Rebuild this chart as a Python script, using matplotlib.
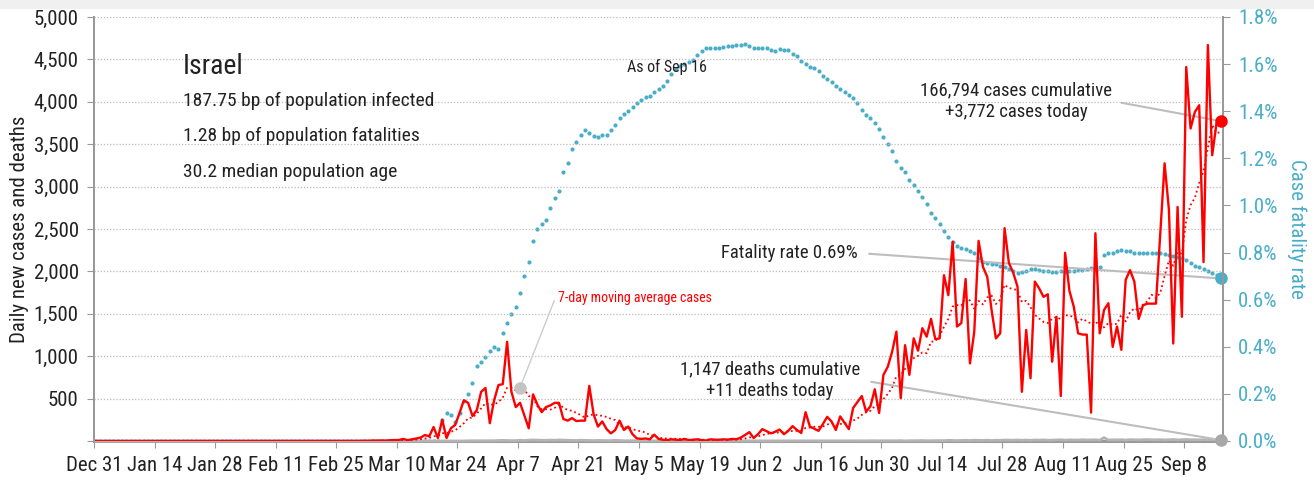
import numpy as np
import pandas as pd
import matplotlib
matplotlib.use('Agg')
import matplotlib.pyplot as plt
from matplotlib.patches import Rectangle
from matplotlib import font_manager

#Buscar una fuente estrecha (narrow / condensed) entre las instaladas
def buscarFuenteEstrecha():
    preferidas = ['Liberation', 'Roboto', 'Noto Sans', 'Open Sans', 'DejaVu Sans', 'Lato', 'Inter']
    encontradas = []
    for f in font_manager.fontManager.ttflist:
        estrecha = f.stretch in ('condensed', 'semi-condensed') or 'Narrow' in f.name \
            or 'Condensed' in f.name
        if estrecha and f.style == 'normal' and f.weight in (400, 'normal', 'regular', 'book'):
            encontradas.append(f)
    for pref in preferidas:
        for f in encontradas:
            if f.name.startswith(pref) and 'CJK' not in f.name:
                return f
    return encontradas[0] if encontradas else None

estrecha = buscarFuenteEstrecha()
if estrecha is not None:
    plt.rcParams['font.family'] = [estrecha.name, 'DejaVu Sans']
    plt.rcParams['font.stretch'] = estrecha.stretch
    escala = 1.0
else:
    plt.rcParams['font.family'] = ['DejaVu Sans']
    escala = 0.8

#Casos nuevos por día (31 dic 2019 - 16 sep 2020)
casos_previos = [0] * 61
casos_mar = [1, 3, 2, 5, 4, 6, 4, 9, 11, 12, 25, 10, 20, 30, 40, 70, 55, 165, 35, 250,
             35, 150, 190, 330, 480, 450, 295, 365, 580, 625, 210]
casos_abr = [480, 660, 670, 1170, 580, 400, 450, 300, 150, 550, 430, 340, 400, 420, 450,
             450, 260, 240, 270, 235, 240, 240, 650, 315, 170, 230, 140, 90, 130, 240]
casos_may = [130, 170, 80, 30, 25, 30, 20, 75, 25, 15, 10, 20, 15, 10, 25, 10, 15, 20, 10,
             5, 20, 15, 15, 20, 15, 25, 20, 40, 70, 105, 35]
casos_jun = [80, 140, 115, 90, 110, 135, 80, 120, 175, 130, 95, 340, 170, 145, 120, 200,
             285, 230, 130, 290, 215, 140, 390, 460, 530, 345, 410, 610, 330, 780]
casos_jul = [875, 1050, 1290, 505, 1130, 780, 1210, 1065, 1330, 1230, 1440, 1200, 1210,
             1955, 1720, 2350, 1350, 1390, 1910, 915, 1290, 2360, 2055, 1935, 1545, 1210,
             1270, 2510, 2100, 1985, 1820]
casos_ago = [580, 1310, 740, 1880, 1800, 1700, 1730, 935, 1465, 530, 2220, 1770, 1585,
             1270, 1255, 1255, 335, 2450, 1270, 1545, 1625, 1110, 1350, 1075, 1900, 2015,
             1880, 1440, 1600, 1620, 1620]
casos_sep = [1620, 2450, 3275, 2725, 1150, 2760, 1465, 4410, 3685, 3880, 3960, 2110, 4670,
             3370, 3745, 3772]

#Muertes por día
muertes_previas = [0] * 80
muertes_mar = [1, 0, 0, 0, 1, 0, 2, 2, 3, 2, 3, 1]
muertes_abr = [3, 6, 7, 5, 4, 5, 9, 6, 10, 12, 10, 9, 8, 11, 9, 12, 10, 8, 7, 6, 9, 8, 7, 5,
               7, 6, 6, 4, 8, 5]
muertes_may = [3, 2, 4, 1, 2, 3, 2, 1, 2, 3, 1, 2, 1, 1, 2, 1, 2, 1, 1, 1, 2, 0, 1, 1, 1, 2,
               1, 0, 1, 1, 1]
muertes_jun = [0, 1, 1, 0, 1, 1, 0, 1, 0, 1, 1, 0, 1, 0, 1, 1, 0, 1, 2, 0, 1, 1, 2, 1, 1, 2,
               3, 2, 2, 3]
muertes_jul = [2, 3, 2, 4, 1, 3, 3, 4, 5, 3, 4, 6, 5, 4, 8, 6, 5, 7, 8, 6, 9, 8, 7, 10, 6, 9,
               8, 11, 10, 9, 12]
muertes_ago = [9, 11, 8, 12, 10, 13, 9, 11, 12, 14, 10, 13, 12, 11, 15, 12, 13, 14, 10, 40,
               12, 14, 13, 15, 11, 16, 14, 13, 15, 17, 14]
muertes_sep = [14, 16, 12, 15, 17, 13, 16, 18, 14, 15, 13, 16, 14, 15, 12, 11]

#Tasa de letalidad (%)
letalidad_previa = [0.0] * 80
letalidad_mar = [0.09, 0.12, 0.11, 0.08, 0.12, 0.17, 0.20, 0.245, 0.32, 0.335, 0.355, 0.38]
letalidad_abr = [0.40, 0.39, 0.46, 0.50, 0.54, 0.57, 0.63, 0.70, 0.76, 0.85, 0.90, 0.92,
                 0.94, 0.99, 1.03, 1.06, 1.14, 1.18, 1.24, 1.27, 1.30, 1.32, 1.306, 1.295,
                 1.29, 1.30, 1.30, 1.32, 1.34, 1.37]
letalidad_may = [1.39, 1.40, 1.42, 1.435, 1.447, 1.46, 1.463, 1.48, 1.495, 1.505, 1.53,
                 1.556, 1.58, 1.593, 1.60, 1.61, 1.617, 1.64, 1.655, 1.668, 1.669, 1.669,
                 1.67, 1.672, 1.675, 1.676, 1.68, 1.682, 1.685, 1.675, 1.67]
letalidad_jun = [1.669, 1.67, 1.668, 1.66, 1.655, 1.665, 1.662, 1.66, 1.645, 1.633, 1.615,
                 1.60, 1.589, 1.582, 1.57, 1.55, 1.535, 1.525, 1.505, 1.495, 1.48, 1.47,
                 1.455, 1.435, 1.405, 1.384, 1.372, 1.35, 1.325, 1.29]
letalidad_jul = [1.26, 1.23, 1.19, 1.16, 1.14, 1.11, 1.085, 1.06, 1.035, 1.005, 0.97, 0.945,
                 0.922, 0.893, 0.865, 0.843, 0.829, 0.82, 0.815, 0.808, 0.797, 0.776, 0.762,
                 0.756, 0.752, 0.75, 0.745, 0.74, 0.73, 0.72, 0.714]
letalidad_ago = [0.716, 0.72, 0.73, 0.73, 0.727, 0.722, 0.72, 0.719, 0.719, 0.72, 0.719,
                 0.72, 0.722, 0.724, 0.726, 0.73, 0.733, 0.734, 0.737, 0.79, 0.80, 0.80,
                 0.805, 0.81, 0.808, 0.805, 0.80, 0.80, 0.80, 0.80, 0.80]
letalidad_sep = [0.80, 0.798, 0.795, 0.79, 0.787, 0.783, 0.778, 0.77, 0.755, 0.745, 0.738,
                 0.73, 0.722, 0.713, 0.703, 0.69]

casos = np.array(casos_previos + casos_mar + casos_abr + casos_may + casos_jun
                 + casos_jul + casos_ago + casos_sep)
muertes = np.array(muertes_previas + muertes_mar + muertes_abr + muertes_may + muertes_jun
                   + muertes_jul + muertes_ago + muertes_sep)
letalidad = np.array(letalidad_previa + letalidad_mar + letalidad_abr + letalidad_may
                     + letalidad_jun + letalidad_jul + letalidad_ago + letalidad_sep)

#Cada total diario se dibuja a mediodía
fechas = pd.date_range('2019-12-31 12:00', periods=len(casos), freq='D')
media7 = pd.Series(casos).rolling(7, min_periods=1).mean().values

rojo = '#ff0000'
turquesa = '#4aaec8'
gris = '#b4b4b4'
texto = '#222222'

fig = plt.figure(figsize=(13.14, 4.8), dpi=100)
fig.patches.append(Rectangle((0, 1 - 8 / 480), 1, 8 / 480, transform=fig.transFigure,
                             color='#f0f0f0', zorder=0))
ax = fig.add_axes([94 / 1314, 39 / 480, 1129 / 1314, 424 / 480])
ax2 = ax.twinx()
ax.set_zorder(ax2.get_zorder() + 1)
ax.patch.set_visible(False)

#Tasa de letalidad (eje derecho)
ax2.plot(fechas, letalidad, 'o', color=turquesa, ms=3, mec='none')
ax2.plot(fechas[-1], letalidad[-1], 'o', color=turquesa, ms=8, clip_on=False, zorder=5)
ax2.set_ylim(0, 1.8)
ax2.set_yticks(np.arange(0, 1.81, 0.2))
ax2.set_yticklabels([f'{v:.1f}%' for v in np.arange(0, 1.81, 0.2)])

#Casos, media móvil y muertes (eje izquierdo)
ax.plot(fechas, muertes, color=gris, lw=2, zorder=3, clip_on=False)
ax.plot(fechas, media7, color=rojo, lw=1.3, ls=(0, (1, 1.6)), zorder=3)
ax.plot(fechas, casos, color=rojo, lw=1.7, zorder=4)
ax.plot(fechas[-1], casos[-1], 'o', color=rojo, ms=8, clip_on=False, zorder=5)
ax.plot(fechas[-1], muertes[-1], 'o', color='#a8a8a8', ms=8, clip_on=False, zorder=5)
ax.plot(fechas[98], media7[98], 'o', color='#c4c4c4', ms=8, zorder=5)

ax.set_ylim(0, 5000)
ax.set_xlim(pd.Timestamp('2019-12-31'), pd.Timestamp('2020-09-17'))
ax.set_yticks(np.arange(0, 5001, 500))
ax.set_yticklabels([''] + [f'{v:,}' for v in range(500, 5001, 500)])
ax.yaxis.grid(True, color='#bcbcbc', ls=(0, (1, 1.5)), lw=0.9)
marcas = pd.date_range('2019-12-31', '2020-09-16', freq='14D')
ax.set_xticks(marcas)
ax.set_xticklabels([f'{t:%b} {t.day}' for t in marcas])

for eje in (ax, ax2):
    eje.spines['top'].set_visible(False)
    for lado in ('left', 'right', 'bottom'):
        eje.spines[lado].set_color('#999999')
        eje.spines[lado].set_linewidth(1.4)
ax.spines['bottom'].set_linewidth(2.2)
ax.tick_params(axis='y', length=5, color='#999999', labelsize=15 * escala, labelcolor=texto,
               pad=6)
ax.tick_params(axis='x', length=5, color='#999999', labelsize=15 * escala, labelcolor=texto,
               pad=6)
ax2.tick_params(axis='y', length=5, color='#999999', labelsize=15 * escala,
                labelcolor=turquesa, pad=6)

ax.set_ylabel('Daily new cases and deaths', fontsize=15 * escala, color=texto, labelpad=3)
ax2.set_ylabel('Case fatality rate', fontsize=15 * escala, color=turquesa, rotation=270,
               labelpad=21)

#Bloque de texto del país
fig.text(183 / 1314, 1 - 74 / 480, 'Israel', fontsize=20 * escala, color=texto, va='baseline')
fig.text(183 / 1314, 1 - 106 / 480, '187.75 bp of population infected', fontsize=14 * escala,
         color=texto, va='baseline')
fig.text(183 / 1314, 1 - 141 / 480, '1.28 bp of population fatalities', fontsize=14 * escala,
         color=texto, va='baseline')
fig.text(183 / 1314, 1 - 177 / 480, '30.2 median population age', fontsize=14 * escala,
         color=texto, va='baseline')
fig.text(667 / 1314, 1 - 72 / 480, 'As of Sep 16', fontsize=11.5 * escala, color=texto,
         ha='center', va='baseline')

linea = dict(arrowstyle='-', color='#bdbdbd', lw=1.5, shrinkB=0)
ax.annotate('166,794 cases cumulative\n+3,772 cases today', xy=(fechas[-1], casos[-1]),
            xytext=(1016 / 1314, 1 - 101 / 480), textcoords='figure fraction',
            ha='center', va='center', fontsize=13.5 * escala, color=texto, linespacing=1.25,
            arrowprops=dict(linea, relpos=(1, 0.5), shrinkA=5))
ax2.annotate('Fatality rate 0.69%', xy=(fechas[-1], letalidad[-1]),
             xytext=(858 / 1314, 1 - 253 / 480), textcoords='figure fraction',
             ha='right', va='center', fontsize=13.5 * escala, color=texto,
             arrowprops=dict(linea, relpos=(1, 0.5), shrinkA=6))
ax.annotate('1,147 deaths cumulative\n+11 deaths today', xy=(fechas[-1], muertes[-1]),
            xytext=(770 / 1314, 1 - 380 / 480), textcoords='figure fraction',
            ha='center', va='center', fontsize=13.5 * escala, color=texto, linespacing=1.25,
            arrowprops=dict(linea, relpos=(1, 0.5), shrinkA=6))
ax.annotate('7-day moving average cases', xy=(fechas[98], media7[98]),
            xytext=(558 / 1314, 1 - 298 / 480), textcoords='figure fraction',
            ha='left', va='center', fontsize=10 * escala, color=rojo,
            arrowprops=dict(linea, lw=1, color='#cccccc', relpos=(0, 1), shrinkA=2))

fig.savefig('out.png', dpi=100)
